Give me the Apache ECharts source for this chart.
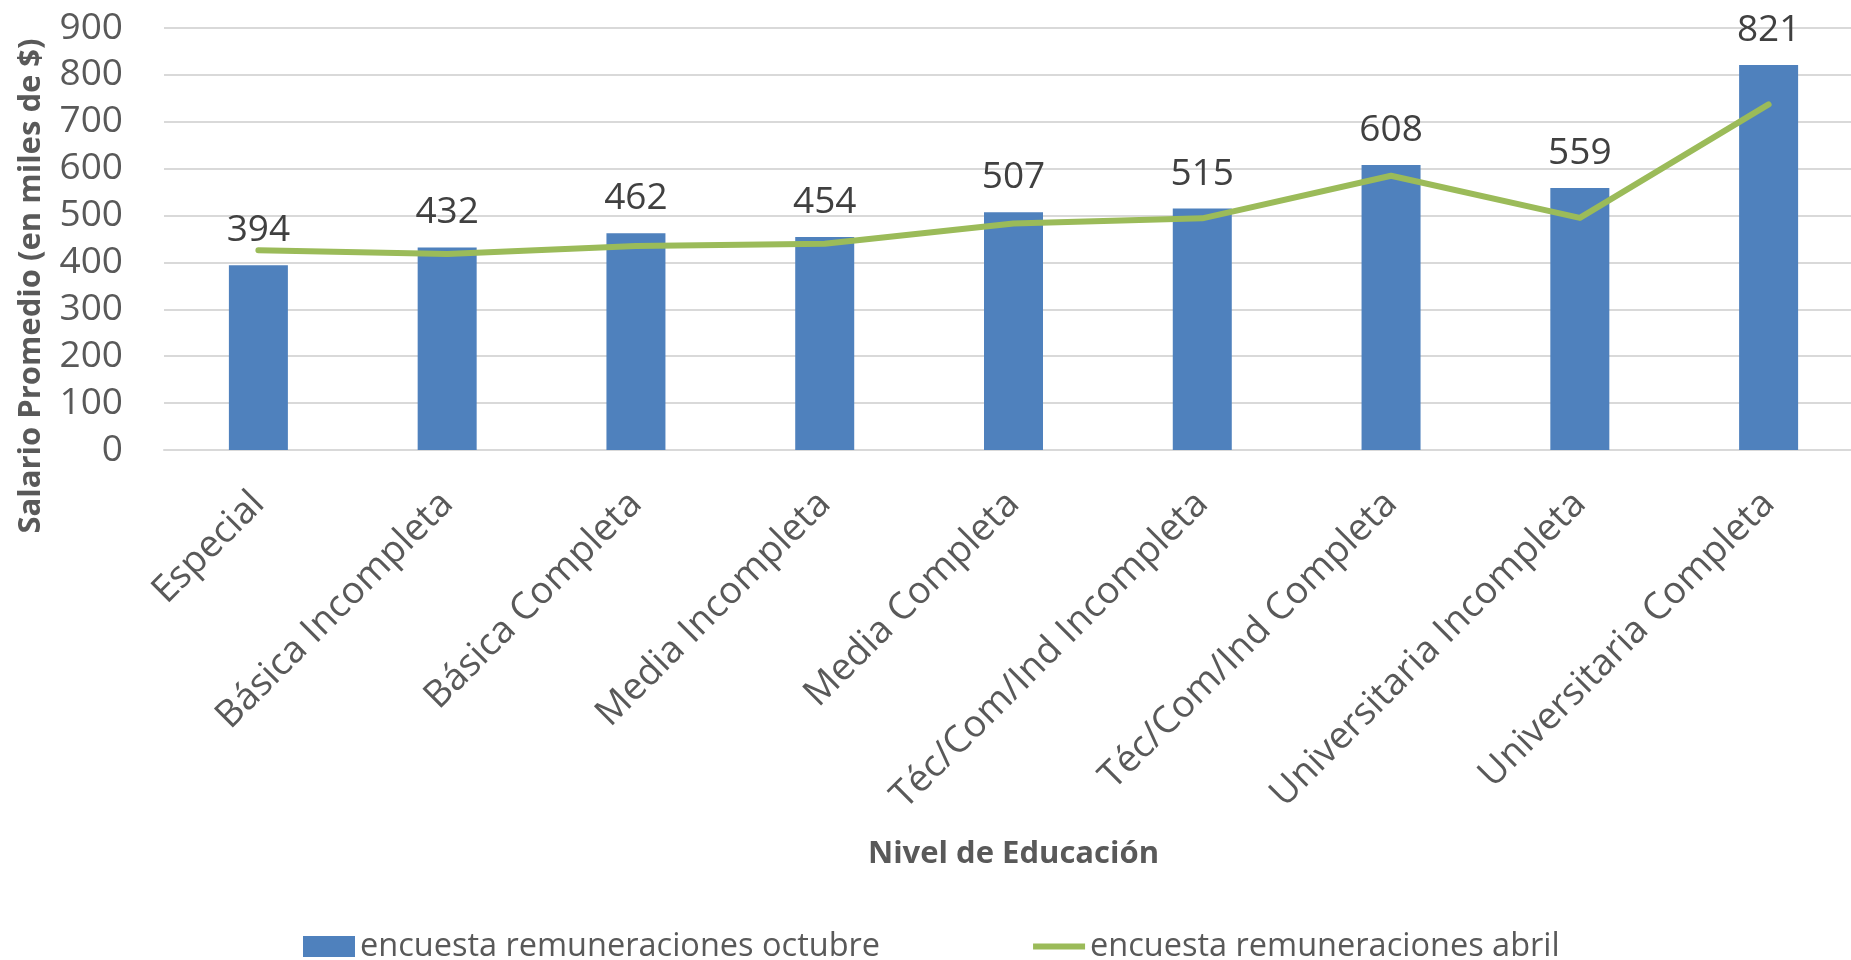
<!DOCTYPE html>
<html>
<head>
<meta charset="utf-8">
<title>Salario Promedio por Nivel de Educación</title>
<script src="https://cdn.jsdelivr.net/npm/echarts@6/dist/echarts.min.js"></script>
<style>
  html, body { margin: 0; padding: 0; background: #ffffff; overflow: hidden; }
  /* The plot area runs slightly past the right edge of the window */
  #chart { width: 1863px; height: 960px; }
</style>
</head>
<body>
<div id="chart"></div>
<script>
// Education levels (x axis)
const categories = [
  'Especial',
  'Básica Incompleta',
  'Básica Completa',
  'Media Incompleta',
  'Media Completa',
  'Téc/Com/Ind Incompleta',
  'Téc/Com/Ind Completa',
  'Universitaria Incompleta',
  'Universitaria Completa'
];

// Average salary, thousands of $
const octubre = [394, 432, 462, 454, 507, 515, 608, 559, 821];
const abril = [426, 418, 435, 440, 483, 494, 585, 495, 737];

const seriesNames = ['encuesta remuneraciones octubre', 'encuesta remuneraciones abril'];
const yTicks = { min: 0, max: 900, interval: 100 };

const FONT = '"Open Sans", "Noto Sans", sans-serif';
const TEXT = '#595959';

// Legend marker for the line series: a thick horizontal stroke centred in the item box
const LINE_ICON = 'path://M0,0L0.01,0L0.01,0.01Z M0,7.5L52,7.5L52,13.5L0,13.5Z M0,21L0.01,21L0.01,20.99Z';

const chart = echarts.init(document.getElementById('chart'), null, { renderer: 'canvas' });

chart.setOption({
  animation: false,
  textStyle: { fontFamily: FONT },
  grid: { left: 164, right: 0, top: 28, bottom: 510, containLabel: false },
  xAxis: {
    type: 'category',
    data: categories,
    name: 'Nivel de Educación',
    nameLocation: 'middle',
    nameGap: 389,
    nameTextStyle: { fontFamily: FONT, fontSize: 31, fontWeight: 'bold', color: TEXT },
    axisLine: { show: true, lineStyle: { color: '#D9D9D9', width: 2 } },
    axisTick: { show: false },
    axisLabel: {
      interval: 0,
      rotate: 45,
      margin: 48,
      fontFamily: FONT,
      fontSize: 37.5,
      color: TEXT
    }
  },
  yAxis: {
    type: 'value',
    min: yTicks.min,
    max: yTicks.max,
    interval: yTicks.interval,
    axisLine: { show: false },
    axisTick: { show: false },
    splitLine: { lineStyle: { color: '#D9D9D9', width: 2 } },
    axisLabel: { margin: 41, fontFamily: FONT, fontSize: 37, color: TEXT }
  },
  legend: {
    left: 298,
    top: 925,
    padding: 5,
    itemWidth: 52,
    itemHeight: 21,
    itemGap: 153,
    textStyle: { fontFamily: FONT, fontSize: 32.5, color: TEXT },
    data: [
      { name: seriesNames[0], icon: 'rect' },
      { name: seriesNames[1], icon: LINE_ICON, itemStyle: { color: '#9BBB59' } }
    ]
  },
  graphic: [{
    type: 'text',
    x: 31,
    y: 286,
    rotation: Math.PI / 2,
    style: {
      text: 'Salario Promedio (en miles de $)',
      fontFamily: FONT,
      fontSize: 31,
      fontWeight: 'bold',
      fill: TEXT,
      align: 'center',
      verticalAlign: 'middle'
    }
  }],
  series: [
    {
      name: seriesNames[0],
      type: 'bar',
      data: octubre,
      barWidth: 59,
      itemStyle: { color: '#4F81BD' },
      label: {
        show: true,
        position: 'top',
        distance: 16,
        fontFamily: FONT,
        fontSize: 37,
        color: '#404040'
      },
      z: 2
    },
    {
      name: seriesNames[1],
      type: 'line',
      data: abril,
      symbol: 'none',
      lineStyle: { color: '#9BBB59', width: 6, cap: 'round', join: 'round' },
      itemStyle: { color: '#9BBB59' },
      z: 3
    }
  ]
});
</script>
</body>
</html>
